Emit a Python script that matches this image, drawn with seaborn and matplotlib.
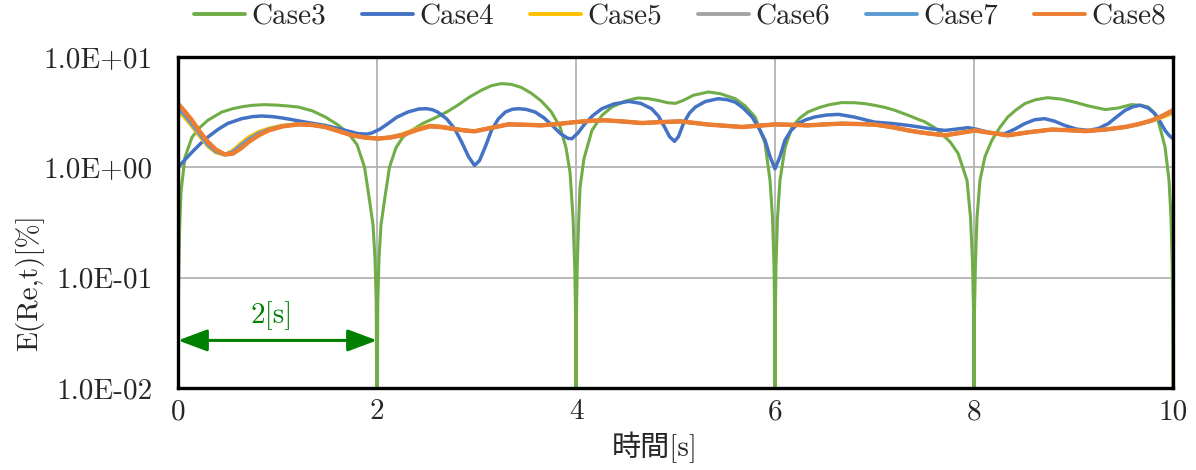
import numpy as np
import pandas as pd
import matplotlib
matplotlib.use("Agg")
import matplotlib.pyplot as plt
import seaborn as sns
from matplotlib.patches import FancyArrowPatch

# ---------------- data ----------------
case3_t = [0.0, 0.005, 0.015, 0.03, 0.07, 0.14, 0.22, 0.3, 0.44, 0.55, 0.65, 0.75, 0.87, 1.0, 1.1, 1.21, 1.35,
           1.48, 1.6, 1.71, 1.8, 1.875, 1.925, 1.96, 1.98, 1.992, 2.0,
           2.008, 2.02, 2.04, 2.075, 2.125, 2.19, 2.26, 2.36, 2.46, 2.58, 2.70, 2.82, 2.93, 3.05, 3.15, 3.25,
           3.35, 3.45, 3.55, 3.65, 3.75, 3.84, 3.9, 3.94, 3.97, 3.988, 3.995, 4.0,
           4.005, 4.012, 4.025, 4.04, 4.08, 4.16, 4.26, 4.36, 4.5, 4.62, 4.72, 4.82, 4.92, 5.0, 5.08, 5.18,
           5.33, 5.45, 5.6, 5.7, 5.8, 5.9, 5.95, 5.975, 5.99, 5.996, 6.0,
           6.004, 6.01, 6.025, 6.05, 6.1, 6.17, 6.25, 6.33, 6.45, 6.55, 6.67, 6.8, 6.9, 7.0, 7.1, 7.2, 7.34,
           7.45, 7.5, 7.6, 7.68, 7.76, 7.84, 7.93, 7.965, 7.985, 7.995, 8.0,
           8.005, 8.015, 8.03, 8.06, 8.11, 8.18, 8.26, 8.34, 8.42, 8.51, 8.62, 8.74, 8.88, 9.01, 9.15, 9.32,
           9.45, 9.58, 9.68, 9.75, 9.8, 9.85, 9.92, 9.96, 9.98, 9.992, 9.997, 10.0]
case3_v = [0.003, 0.08, 0.25, 0.6, 1.23, 1.87, 2.3, 2.67, 3.17, 3.4, 3.55, 3.65, 3.70, 3.66, 3.6, 3.52, 3.25,
           2.86, 2.45, 2.05, 1.6, 1.0, 0.5, 0.3, 0.15, 0.06, 0.003,
           0.06, 0.15, 0.3, 0.5, 1.0, 1.5, 1.88, 2.2, 2.5, 2.8, 3.17, 3.7, 4.34, 5.0, 5.5, 5.74,
           5.65, 5.3, 4.7, 4.0, 3.2, 2.32, 1.5, 0.9, 0.35, 0.12, 0.05, 0.003,
           0.05, 0.12, 0.3, 0.65, 1.2, 2.16, 2.95, 3.52, 4.0, 4.25, 4.2, 4.05, 3.85, 3.8, 4.05, 4.5,
           4.82, 4.65, 4.19, 3.6, 2.86, 1.65, 0.76, 0.35, 0.13, 0.05, 0.003,
           0.05, 0.13, 0.35, 0.76, 1.5, 2.32, 2.8, 3.17, 3.5, 3.7, 3.86, 3.85, 3.78, 3.65, 3.5, 3.3, 2.96,
           2.7, 2.6, 2.3, 2.0, 1.7, 1.34, 0.76, 0.35, 0.14, 0.05, 0.003,
           0.05, 0.14, 0.35, 0.76, 1.25, 1.76, 2.3, 2.86, 3.3, 3.78, 4.1, 4.28, 4.15, 3.90, 3.6, 3.34,
           3.45, 3.70, 3.65, 3.52, 3.2, 2.67, 1.53, 0.76, 0.35, 0.13, 0.05, 0.003]

case4_t = [0.0, 0.08, 0.15, 0.22, 0.3, 0.4, 0.5, 0.64, 0.75, 0.84, 0.95, 1.05, 1.14, 1.3, 1.48, 1.65, 1.81,
           1.9, 1.95, 2.03, 2.11, 2.2, 2.31, 2.42, 2.50, 2.56, 2.61, 2.7, 2.78, 2.85, 2.92, 2.98, 3.03,
           3.09, 3.15, 3.22, 3.29, 3.36, 3.42, 3.5, 3.59, 3.68, 3.76, 3.85, 3.92, 3.96, 4.02, 4.09, 4.17,
           4.26, 4.38, 4.53, 4.65, 4.76, 4.83, 4.89, 4.94, 4.99, 5.03, 5.08, 5.14, 5.20, 5.3, 5.43, 5.52,
           5.60, 5.68, 5.77, 5.84, 5.90, 5.95, 6.0, 6.05, 6.10, 6.16, 6.23, 6.31, 6.40, 6.52, 6.64, 6.8,
           7.0, 7.17, 7.34, 7.45, 7.56, 7.71, 7.82, 7.94, 8.02, 8.11, 8.2, 8.31, 8.41, 8.51, 8.61, 8.71,
           8.81, 8.91, 9.03, 9.15, 9.25, 9.35, 9.43, 9.52, 9.6, 9.67, 9.75, 9.82, 9.87, 9.92, 9.96, 10.0]
case4_v = [1.0, 1.2, 1.4, 1.62, 1.88, 2.2, 2.5, 2.76, 2.88, 2.92, 2.88, 2.8, 2.71, 2.55, 2.40, 2.2, 2.02,
           2.0, 2.05, 2.22, 2.49, 2.85, 3.17, 3.38, 3.40, 3.32, 3.17, 2.75, 2.24, 1.7, 1.25, 1.04, 1.15,
           1.55, 2.16, 2.75, 3.17, 3.36, 3.40, 3.35, 3.17, 2.8, 2.40, 2.0, 1.83, 1.82, 2.05, 2.49, 2.95,
           3.40, 3.75, 3.96, 3.8, 3.40, 2.9, 2.32, 1.9, 1.72, 1.9, 2.5, 3.1, 3.52, 3.95, 4.19, 4.1,
           3.90, 3.45, 2.86, 2.25, 1.76, 1.25, 0.97, 1.25, 1.76, 2.15, 2.49, 2.7, 2.86, 2.98, 3.02, 2.85,
           2.57, 2.5, 2.40, 2.32, 2.24, 2.16, 2.22, 2.29, 2.22, 2.12, 2.03, 2.02, 2.22, 2.49, 2.7, 2.76,
           2.62, 2.40, 2.22, 2.16, 2.25, 2.49, 2.85, 3.29, 3.55, 3.65, 3.45, 3.06, 2.6, 2.16, 1.95, 1.82]

orange_t = [0.0, 0.07, 0.14, 0.22, 0.30, 0.38, 0.47, 0.55, 0.63, 0.71, 0.81, 0.91, 1.05, 1.21, 1.35, 1.48,
            1.62, 1.75, 1.88, 2.01, 2.13, 2.25, 2.4, 2.53, 2.64, 2.75, 2.88, 2.98, 3.15, 3.32, 3.5, 3.65,
            3.82, 3.99, 4.15, 4.29, 4.48, 4.66, 4.85, 5.05, 5.2, 5.33, 5.5, 5.67, 5.83, 6.0, 6.17, 6.33,
            6.5, 6.67, 6.83, 7.0, 7.17, 7.34, 7.45, 7.56, 7.71, 7.86, 8.01, 8.17, 8.34, 8.55, 8.78, 8.95,
            9.12, 9.32, 9.52, 9.66, 9.79, 9.9, 10.0]
case5_v = [3.2, 2.8, 2.35, 1.9, 1.55, 1.36, 1.30, 1.42, 1.65, 1.88, 2.1, 2.25, 2.4, 2.47, 2.43, 2.33,
           2.13, 1.96, 1.87, 1.83, 1.88, 2.0, 2.24, 2.40, 2.35, 2.26, 2.17, 2.13, 2.29, 2.46, 2.44, 2.41,
           2.48, 2.57, 2.64, 2.67, 2.6, 2.53, 2.57, 2.61, 2.52, 2.45, 2.38, 2.33, 2.38, 2.45, 2.43, 2.40,
           2.45, 2.49, 2.47, 2.44, 2.32, 2.17, 2.09, 2.03, 1.96, 2.06, 2.16, 2.06, 1.96, 2.08, 2.20, 2.17,
           2.14, 2.2, 2.32, 2.46, 2.64, 2.85, 3.1]
case6_v = [3.5, 3.0, 2.5, 2.0, 1.62, 1.40, 1.30, 1.37, 1.56, 1.78, 2.02, 2.2, 2.37, 2.46, 2.42, 2.32,
           2.12, 1.95, 1.86, 1.82, 1.87, 1.97, 2.2, 2.37, 2.33, 2.25, 2.16, 2.12, 2.28, 2.45, 2.43, 2.40,
           2.47, 2.57, 2.64, 2.67, 2.6, 2.52, 2.57, 2.61, 2.52, 2.44, 2.38, 2.32, 2.38, 2.45, 2.43, 2.40,
           2.45, 2.49, 2.47, 2.44, 2.32, 2.16, 2.08, 2.02, 1.95, 2.05, 2.16, 2.05, 1.95, 2.08, 2.20, 2.17,
           2.13, 2.2, 2.32, 2.47, 2.66, 2.92, 3.2]
case7_v = [3.4, 2.95, 2.45, 1.98, 1.60, 1.39, 1.31, 1.38, 1.58, 1.80, 2.03, 2.2, 2.37, 2.46, 2.42, 2.32,
           2.12, 1.95, 1.86, 1.82, 1.86, 1.96, 2.19, 2.36, 2.32, 2.24, 2.16, 2.12, 2.28, 2.45, 2.43, 2.40,
           2.47, 2.57, 2.64, 2.67, 2.6, 2.52, 2.57, 2.61, 2.52, 2.44, 2.38, 2.32, 2.38, 2.45, 2.43, 2.40,
           2.45, 2.49, 2.47, 2.44, 2.32, 2.16, 2.08, 2.02, 1.95, 2.05, 2.16, 2.05, 1.95, 2.08, 2.20, 2.17,
           2.13, 2.2, 2.32, 2.47, 2.66, 2.93, 3.25]
case8_v = [3.78, 3.2, 2.67, 2.1, 1.70, 1.45, 1.31, 1.33, 1.48, 1.70, 1.95, 2.16, 2.35, 2.45, 2.42, 2.32,
           2.12, 1.95, 1.86, 1.82, 1.86, 1.95, 2.18, 2.35, 2.32, 2.24, 2.16, 2.12, 2.28, 2.45, 2.43, 2.40,
           2.47, 2.57, 2.64, 2.67, 2.6, 2.52, 2.57, 2.61, 2.52, 2.44, 2.38, 2.32, 2.38, 2.45, 2.43, 2.40,
           2.45, 2.49, 2.47, 2.44, 2.32, 2.16, 2.08, 2.02, 1.95, 2.05, 2.16, 2.05, 1.95, 2.08, 2.20, 2.17,
           2.13, 2.2, 2.32, 2.47, 2.67, 2.95, 3.29]

x_ticks = [0, 2, 4, 6, 8, 10]
y_ticks = [0.01, 0.1, 1, 10]
y_tick_labels = ["1.0E-02", "1.0E-01", "1.0E+00", "1.0E+01"]

# ---------------- style ----------------
sns.set_style("white")
plt.rcParams["font.family"] = ["cmr10", "Noto Sans CJK JP", "DejaVu Sans"]
plt.rcParams["axes.unicode_minus"] = False
plt.rcParams["axes.formatter.use_mathtext"] = True

FS = 21
fig = plt.figure(figsize=(11.96, 4.70), dpi=100)
ax = fig.add_axes([178 / 1196, 1 - 388 / 470, (1173 - 178) / 1196, (388 - 57) / 470])

series = [
    ("Case3", case3_t, case3_v, "#70AD47", 2.2),
    ("Case4", case4_t, case4_v, "#4472C4", 2.5),
    ("Case5", orange_t, case5_v, "#FFC000", 2.6),
    ("Case6", orange_t, case6_v, "#A5A5A5", 2.6),
    ("Case7", orange_t, case7_v, "#5B9BD5", 2.6),
    ("Case8", orange_t, case8_v, "#ED7D31", 3.2),
]
for name, t, v, c, lw in series:
    df = pd.DataFrame({"t": t, "v": v})
    sns.lineplot(data=df, x="t", y="v", ax=ax, color=c, linewidth=lw, label=name,
                 estimator=None, sort=False, zorder=3, solid_joinstyle="round")

ax.set_yscale("log")
ax.set_xlim(0, 10)
ax.set_ylim(0.01, 10)
ax.set_xticks(x_ticks)
ax.set_xticklabels([str(x) for x in x_ticks], fontsize=FS)
ax.set_yticks(y_ticks)
ax.set_yticklabels(y_tick_labels, fontsize=FS)
ax.yaxis.set_minor_locator(matplotlib.ticker.NullLocator())
ax.tick_params(axis="both", length=0)
ax.tick_params(axis="y", pad=18)
ax.tick_params(axis="x", pad=8)
ax.set_xlabel("")
ax.set_ylabel("")
ax.grid(True, color="#B3B3B3", linewidth=1.3)
ax.set_axisbelow(True)
for s in ax.spines.values():
    s.set_color("black")
    s.set_linewidth(2.4)
    s.set_zorder(4)

# arrow annotation
arr = FancyArrowPatch((0.0, 0.027), (2.0, 0.027),
                      arrowstyle="<|-|>,head_length=1.2,head_width=0.45",
                      mutation_scale=15, color="#008000", linewidth=2.2,
                      shrinkA=0, shrinkB=0, zorder=5)
ax.add_patch(arr)
ax.text(0.94, 0.0455, "2[s]", color="#008000", fontsize=FS, ha="center", va="center")

# labels
fig.text(30 / 1196, 1 - 283 / 470, "E(Re,t)[%]", rotation=90, ha="center", va="center", fontsize=FS)
fig.text(655 / 1196, 1 - 447 / 470, "時間[s]", ha="center", va="center", fontsize=FS)

# legend
ax.get_legend().remove()
handles, labels = ax.get_legend_handles_labels()
leg = fig.legend(handles, labels, loc="center", bbox_to_anchor=(680 / 1196, 1 - 17 / 470),
                 ncol=6, frameon=False, fontsize=FS, handlelength=1.75, handletextpad=0.2,
                 columnspacing=1.25, borderaxespad=0)
for lh in leg.get_lines():
    lh.set_linewidth(2.8)

fig.savefig("out.png", dpi=100)
